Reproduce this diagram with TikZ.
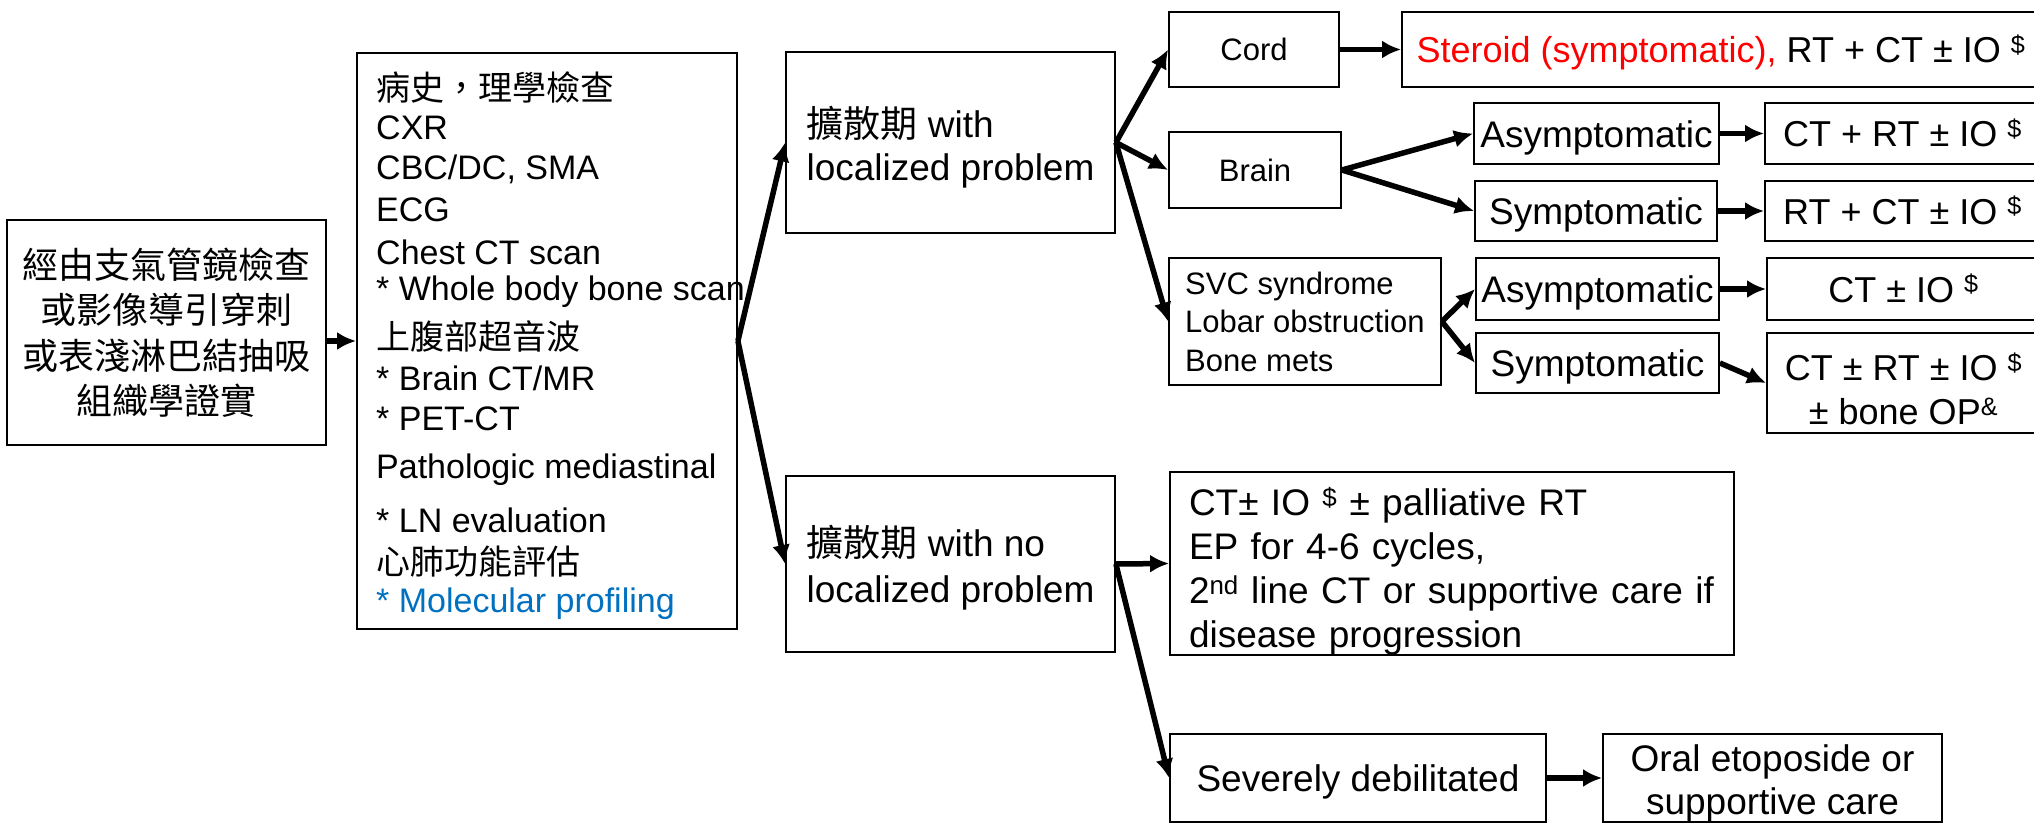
\documentclass[tikz,border=0pt]{standalone}
\usepackage{fontspec}
\setmainfont{Liberation Sans}
\newfontfamily\cjk{Noto Sans CJK TC}
\usetikzlibrary{arrows.meta}
\definecolor{molblue}{RGB}{0,112,192}
\newcommand{\fsz}[2]{\fontsize{#1}{#2}\selectfont}
\newcommand{\lowr}[1]{\rule{0pt}{#1}}
\tikzset{
  box/.style={draw, line width=1.8pt, inner sep=0pt},
  arr/.style={line width=5.5pt, -{Latex[length=19pt,width=18pt]}},
  t37/.style={font=\fsz{37}{44}, text height=35pt, text depth=8pt},
  t36/.style={font=\fsz{36}{44}, text height=34pt, text depth=8pt},
  t31/.style={font=\fsz{31}{38}, text height=30pt, text depth=7pt},
}
\begin{document}
\begin{tikzpicture}[x=1pt,y=-1pt]
\useasboundingbox (0,0) rectangle (2034,824);

% diagnosis and work-up
\node[box, minimum width=319, minimum height=225, align=center, font=\cjk\fsz{36}{45.5}] (diag) at (166.5,332.5) {經由支氣管鏡檢查\\或影像導引穿刺\\或表淺淋巴結抽吸\\組織學證實};
\node[box, minimum width=380, minimum height=576] (work) at (547,341) {};
\foreach \y/\txt [count=\i] in {87/{\cjk 病史，理學檢查}, 128/CXR, 169/{CBC/DC, SMA}, 210/ECG, 252/Chest CT scan, 292/* Whole body bone scan, 336/{\cjk 上腹部超音波}, 378/{* Brain CT/MR}, 419/* PET-CT, 470/Pathologic mediastinal, 520/* LN evaluation, 562/{\cjk 心肺功能評估}, 604/{\textcolor{molblue}{* Molecular profiling}}}
  \node[anchor=west, inner sep=0pt, font=\fsz{34}{40}] (work\i) at (376,\y) {\txt};

% extensive stage
\node[box, minimum width=329, minimum height=181, align=left, font=\fsz{37}{43}] (local) at (950.5,142.5) {\lowr{41pt}{\cjk 擴散期} with\\localized problem};
\node[box, minimum width=329, minimum height=176, align=left, font=\fsz{37}{46}] (nolocal) at (950.5,564) {\lowr{39pt}{\cjk 擴散期} with no\\localized problem};

% localized problems
\node[box, t31, minimum width=170, minimum height=75] (cord) at (1254,49.5) {Cord};
\node[box, t31, minimum width=172, minimum height=76] (brain) at (1255,170) {Brain};
\node[box, minimum width=272, minimum height=127, align=left, font=\fsz{31}{38.5}] (svc) at (1305,321.5) {SVC syndrome\\Lobar obstruction\\Bone mets};

\node[box, t36, minimum width=638, minimum height=75] (steroid) at (1721,49.5) {\textcolor{red}{Steroid (symptomatic),} RT + CT ± IO \textsuperscript{\$}};
\node[box, t37, minimum width=245, minimum height=61] (asym1) at (1596.5,133.5) {Asymptomatic};
\node[box, t37, minimum width=242, minimum height=60] (sym1) at (1596,211) {Symptomatic};
\node[box, t37, minimum width=243, minimum height=62] (asym2) at (1597.5,289) {Asymptomatic};
\node[box, t37, minimum width=243, minimum height=60] (sym2) at (1597.5,363) {Symptomatic};

\node[box, t36, minimum width=275, minimum height=61] (ctrt) at (1902.5,133.5) {CT + RT ± IO \textsuperscript{\$}};
\node[box, t36, minimum width=275, minimum height=60] (rtct) at (1902.5,211) {RT + CT ± IO \textsuperscript{\$}};
\node[box, t36, minimum width=273, minimum height=62] (ctio) at (1903.5,289) {CT ± IO \textsuperscript{\$}};
\node[box, minimum width=273, minimum height=100, align=center, font=\fsz{36}{44}] (ctrtbone) at (1903.5,383) {\lowr{39pt}CT ± RT ± IO \textsuperscript{\$}\\± bone OP\textsuperscript{\&}};

% no localized problem
\node[box, minimum width=564, minimum height=177, text width=526, inner xsep=19, align=left, font=\fsz{37}{44}] (pall) at (1452,563.5) {\lowr{44pt}CT± IO \textsuperscript{\$} ± palliative RT\\EP for 4-6 cycles,\\2\textsuperscript{nd} line CT or supportive care if\\disease progression};
\node[box, t37, minimum width=376, minimum height=88] (sev) at (1358,778) {Severely debilitated};
\node[box, minimum width=339, minimum height=88, align=center, font=\fsz{37}{43}] (oral) at (1772.5,778) {\lowr{37pt}Oral etoposide or\\supportive care};

% connectors
\draw[arr] (diag.east |- work.west) -- (work.west);
\draw[arr] (work.east) -- (local.west);
\draw[arr] (work.east) -- (nolocal.west);
\draw[arr] (local.east) -- (cord.west);
\draw[arr] (local.east) -- (brain.west);
\draw[arr] (local.east) -- (svc.west);
\draw[arr] (cord.east) -- (steroid.west);
\draw[arr] (brain.east) -- (asym1.west);
\draw[arr] (brain.east) -- (sym1.west);
\draw[arr] (svc.east) -- (asym2.west);
\draw[arr] (svc.east) -- (sym2.west);
\draw[arr] (asym1.east) -- (ctrt.west);
\draw[arr] (sym1.east) -- (rtct.west);
\draw[arr] (asym2.east) -- (ctio.west);
\draw[arr] (sym2.east) -- (ctrtbone.west);
\draw[arr] (nolocal.east) -- (pall.west);
\draw[arr] (nolocal.east) -- (sev.west);
\draw[arr] (sev.east) -- (oral.west);
\end{tikzpicture}
\end{document}
